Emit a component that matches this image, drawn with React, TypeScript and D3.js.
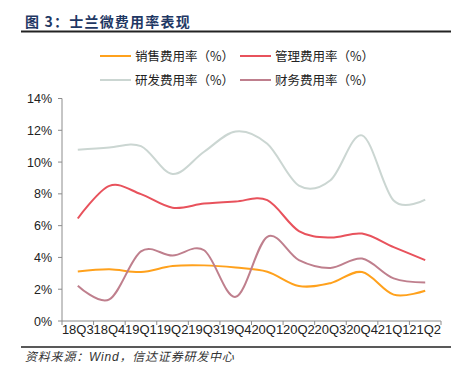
import React from "react";
import * as d3 from "d3";

const categories = ["18Q3", "18Q4", "19Q1", "19Q2", "19Q3", "19Q4", "20Q1", "20Q2", "20Q3", "20Q4", "21Q1", "21Q2"];
const salesRate = [3.12, 3.26, 3.08, 3.46, 3.5, 3.36, 3.1, 2.2, 2.38, 3.08, 1.66, 1.9];
const adminRate = [6.45, 8.5, 7.98, 7.13, 7.39, 7.52, 7.6, 5.66, 5.25, 5.5, 4.65, 3.83];
const rdRate = [10.77, 10.92, 11.0, 9.25, 10.65, 11.93, 11.15, 8.52, 8.86, 11.68, 7.58, 7.64];
const finRate = [2.22, 1.36, 4.38, 4.12, 4.45, 1.52, 5.3, 3.83, 3.34, 3.93, 2.68, 2.43];
const yTicks = [0, 2, 4, 6, 8, 10, 12, 14];

const seriesNames = ["销售费用率（%）", "管理费用率（%）", "研发费用率（%）", "财务费用率（%）"];
const seriesData = [salesRate, adminRate, rdRate, finRate];
const colors = ["#FFA11C", "#E8525C", "#CBD6D2", "#BF7F8D"];

const W = 457;
const H = 377;
const left = 62;
const right = 441;
const top = 98.5;
const bottom = 321;
const font = "'Liberation Sans', Arial, 'Noto Sans CJK SC', sans-serif";
const cjk = "'Noto Sans CJK SC', sans-serif";

export default function App() {
  const x = d3.scaleBand<string>().domain(categories).range([left, right]);
  const y = d3.scaleLinear().domain([0, 14]).range([bottom, top]);
  const line = d3
    .line<number>()
    .x((_, i) => (x(categories[i]) as number) + x.bandwidth() / 2)
    .y((d) => y(d))
    .curve(d3.curveCardinal.tension(0));

  const boundaries = categories.map((c) => x(c) as number).concat([right]);

  const legendPos = [
    { lx: 100, ly: 56 },
    { lx: 240, ly: 56 },
    { lx: 100, ly: 80 },
    { lx: 240, ly: 80 },
  ];

  return (
    <svg
      width={W}
      height={H}
      style={{ position: "absolute", left: 0, top: 0, background: "#fff" }}
    >
      <text x={25} y={27} fontFamily={cjk} fontWeight="bold" fontSize={14} letterSpacing={1.2} fill="#1F3864">
        图 3：士兰微费用率表现
      </text>
      <line x1={21} x2={451} y1={31.5} y2={31.5} stroke="#222" strokeWidth={2} />

      {seriesNames.map((n, i) => (
        <g key={n}>
          <line
            x1={legendPos[i].lx}
            x2={legendPos[i].lx + 31}
            y1={legendPos[i].ly}
            y2={legendPos[i].ly}
            stroke={colors[i]}
            strokeWidth={2}
          />
          <text
            x={legendPos[i].lx + 35}
            y={legendPos[i].ly + 4.5}
            fontFamily={cjk}
            fontSize={12.5}
            fill="#222"
          >
            {n}
          </text>
        </g>
      ))}

      <line x1={left} x2={left} y1={top} y2={bottom} stroke="#8c8c8c" strokeWidth={1} />
      {yTicks.map((t) => (
        <g key={t}>
          <line x1={left - 4} x2={left} y1={y(t)} y2={y(t)} stroke="#8c8c8c" />
          <text
            x={52}
            y={y(t) + 4.5}
            textAnchor="end"
            fontFamily={font}
            fontSize={12.5}
            fill="#222"
          >
            {t}%
          </text>
        </g>
      ))}

      <line x1={left} x2={right} y1={bottom} y2={bottom} stroke="#8c8c8c" strokeWidth={1} />
      {boundaries.map((b, i) => (
        <line key={i} x1={b} x2={b} y1={bottom} y2={bottom + 4} stroke="#8c8c8c" />
      ))}
      {categories.map((c) => (
        <text
          key={c}
          x={(x(c) as number) + x.bandwidth() / 2}
          y={333.5}
          textAnchor="middle"
          fontFamily={font}
          fontSize={13}
          fill="#222"
        >
          {c}
        </text>
      ))}

      {seriesData.map((d, i) => (
        <path key={i} d={line(d) || ""} fill="none" stroke={colors[i]} strokeWidth={2} />
      ))}

      <line x1={21} x2={451} y1={347} y2={347} stroke="#222" strokeWidth={1.5} />
      <text x={25} y={361} fontFamily={font} fontStyle="italic" fontSize={12} letterSpacing={0.8} fill="#333">
        资料来源：Wind，信达证券研发中心
      </text>
    </svg>
  );
}
